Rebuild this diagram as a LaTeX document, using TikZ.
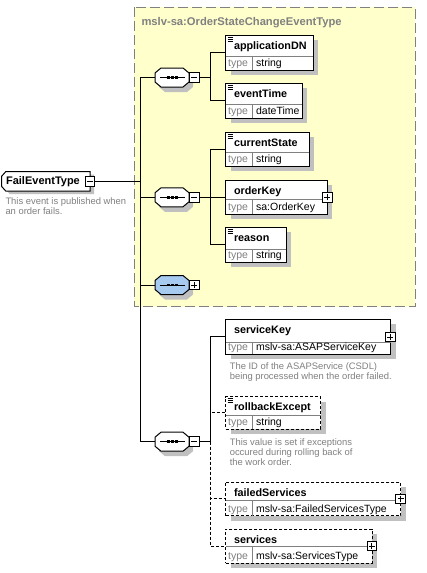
\documentclass[tikz,border=0pt]{standalone}
\usepackage{fontspec}
\setmainfont{Liberation Sans}
\definecolor{xyellow}{HTML}{FFFFCC}
\definecolor{xgray}{HTML}{808080}
\definecolor{xshadow}{HTML}{C0C0C0}
\definecolor{xblue}{HTML}{A6CAF0}
\tikzset{
  elnode/.style={draw=black, fill=white, inner sep=0pt, outer sep=0pt, line width=1pt},
  optbox/.style={dash pattern=on 3pt off 2pt},
  reqbox/.style={},
  divline/.style={draw=xgray, line width=1pt},
  namefont/.style={font=\fontsize{10.8}{12}\selectfont\bfseries, inner sep=0pt, anchor=base west},
  typelab/.style={font=\fontsize{10.5}{12}\selectfont, text=xgray, inner sep=0pt, anchor=base west},
  typeval/.style={font=\fontsize{10.5}{12}\selectfont, inner sep=0pt, anchor=base west},
  desctext/.style={font=\fontsize{9.4}{11}\selectfont, text=xgray, inner sep=0pt, anchor=base west},
  pmbox/.style={draw=black, fill=white, minimum size=9.5pt, inner sep=0pt, outer sep=0pt, line width=1pt},
  conn/.style={draw=black, line width=1pt},
  optconn/.style={draw=black, line width=1pt, dash pattern=on 3pt off 2pt},
}
% #1 name, #2 x1, #3 y1, #4 x2, #5 y2, #6 ydiv, #7 label, #8 type, #9 style
\newcommand\xelem[9]{%
  \fill[xshadow] (#2+5,#3+5) rectangle (#4+5,#5+5);
  \pgfmathsetmacro\xbw{#4-#2}\pgfmathsetmacro\xbh{#5-#3}%
  \node[elnode,#9,minimum width=\xbw pt,minimum height=\xbh pt,anchor=north west] (#1) at (#2,#3) {};
  \draw[divline] (#2,#6) -- (#4,#6) (252.7,#6) -- (252.7,#5);
  \node[namefont] (#1-n) at (#2+7.8,#3+14) {#7};
  \node[typelab] (#1-t) at (#2+2,#5-3.4) {type};
  \node[typeval] (#1-v) at (255.6,#5-3.4) {#8};
}
\newcommand\xicon[2]{%
  \draw[line width=0.9pt] (#1+1.8,#2+2) -- ++(5.5,0) (#1+1.8,#2+4) -- ++(5.5,0) (#1+1.8,#2+6) -- ++(5.5,0);
}
\newcommand\xplus[3]{%
  \node[pmbox] (#1) at (#2,#3) {};
  \draw[line width=1pt] ([xshift=-3pt]#1.center) -- ([xshift=3pt]#1.center)
    ([yshift=-3pt]#1.center) -- ([yshift=3pt]#1.center);
}
\newcommand\xminus[3]{%
  \node[pmbox] (#1) at (#2,#3) {};
  \draw[line width=1pt] ([xshift=-3pt]#1.center) -- ([xshift=3pt]#1.center);
}
\newcommand\xoct[1]{(155,#1-4.5) -- (161,#1-9.5) -- (183,#1-9.5) -- (189,#1-4.5) -- (189,#1+4.5) -- (183,#1+9.5) -- (161,#1+9.5) -- (155,#1+4.5) -- cycle}
% #1 name, #2 cy, #3 fill, #4 sign macro
\newcommand\xseq[4]{%
  \begin{scope}[shift={(4,5)}]\fill[xshadow] \xoct{#2};\end{scope}
  \filldraw[fill=#3, draw=black, line width=1pt] \xoct{#2};
  \node[inner sep=0pt, outer sep=0pt, minimum width=34pt, minimum height=19pt] (#1) at (172,#2) {};
  \draw[line width=1pt] (160,#2) -- (185,#2);
  \fill (166.8,#2-1.4) rectangle ++(2.8,2.8);
  \fill (171.1,#2-1.4) rectangle ++(2.8,2.8);
  \fill (175.4,#2-1.4) rectangle ++(2.8,2.8);
  #4{#1-s}{194.3}{#2}%
}
\begin{document}
\begin{tikzpicture}[x=1pt,y=-1pt,line width=1pt]
\useasboundingbox (0,0) rectangle (426,573);
\fill[white] (0,0) rectangle (426,573);
% base type area
\filldraw[fill=xyellow, draw=xgray, line width=1pt, dash pattern=on 10pt off 4pt] (134,7.3) rectangle (415,306.5);
\node[font=\fontsize{11.2}{13}\selectfont\bfseries, text=xgray, inner sep=0pt, anchor=base west] (basetitle) at (141,25) {mslv-sa:OrderStateChangeEventType};

% root element
\begin{scope}[shift={(4,3)}]
\fill[xshadow] (5.7,171.7) -- (90,171.7) -- (90,191) -- (5.7,191) -- (1.7,186.5) -- (1.7,176.2) -- cycle;
\end{scope}
\filldraw[fill=white, draw=black, line width=1pt] (5.7,171.7) -- (90,171.7) -- (90,191) -- (5.7,191) -- (1.7,186.5) -- (1.7,176.2) -- cycle;
\node[font=\fontsize{11}{13}\selectfont\bfseries, inner sep=0pt, anchor=base west] (fet) at (5.6,184.5) {FailEventType};
\xminus{fet-s}{90}{181.7}
\node[desctext] (fetd1) at (5,204) {This event is published when};
\node[desctext] (fetd2) at (5,214) {an order fails.};

% main vertical connector
\coordinate (t0) at (140,77.5);
\coordinate (b0) at (140,441.7);

% sequences
\xseq{seq1}{77.5}{white}{\xminus}
\xseq{seq2}{197.3}{white}{\xminus}
\xseq{seq3}{285}{xblue}{\xplus}
\xseq{seq4}{441.7}{white}{\xminus}

\draw[conn] (t0) -- (b0);
\draw[conn] (fet-s.east) -- (fet-s.east -| t0);
\draw[conn] (t0) -- (seq1.west);
\draw[conn] (seq2.west -| t0) -- (seq2.west);
\draw[conn] (seq3.west -| t0) -- (seq3.west);
\draw[conn] (b0) -- (seq4.west);

% elements of sequence 1
\xelem{appDN}{225.7}{35}{313}{70}{56}{applicationDN}{string}{reqbox}
\xicon{225.7}{35}
\xelem{evTime}{225.7}{83}{302}{118}{104}{eventTime}{dateTime}{reqbox}
\xicon{225.7}{83}
% elements of sequence 2
\xelem{curState}{225.7}{132}{309}{166}{152}{currentState}{string}{reqbox}
\xicon{225.7}{132}
\xelem{orderKey}{225.7}{180}{327}{214}{199.5}{orderKey}{sa:OrderKey}{reqbox}
\xplus{orderKey-s}{327.3}{197.3}
\xelem{reason}{225.7}{227.3}{286}{262}{249.3}{reason}{string}{reqbox}
\xicon{225.7}{227.3}
% elements of sequence 4
\xelem{svcKey}{225.7}{319.3}{390.7}{354}{342.7}{serviceKey}{mslv-sa:ASAPServiceKey}{reqbox}
\xplus{svcKey-s}{390.3}{337}
\node[desctext] (svcd1) at (229.3,369) {The ID of the ASAPService (CSDL)};
\node[desctext] (svcd2) at (229.3,379) {being processed when the order failed.};
\xelem{rbx}{225.7}{396.7}{320.7}{429}{415}{rollbackExcept}{string}{optbox}
\xicon{225.7}{396.7}
\node[desctext] (rbxd1) at (229.3,445) {This value is set if exceptions};
\node[desctext] (rbxd2) at (229.3,455) {occured during rolling back of};
\node[desctext] (rbxd3) at (229.3,465) {the work order.};
\xelem{failed}{225.7}{482}{400.7}{515.7}{500.7}{failedServices}{mslv-sa:FailedServicesType}{optbox}
\xplus{failed-s}{400.7}{498.8}
\xelem{services}{225.7}{529}{372}{563}{546.7}{services}{mslv-sa:ServicesType}{optbox}
\xplus{services-s}{371.8}{546}

% junctions
\coordinate (j1) at (210.7,77.5);
\coordinate (j2) at (210.7,197.3);
\coordinate (j4) at (210.7,441.7);
\draw[conn] (seq1-s.east) -- (j1);
\draw[conn] (j1) |- (appDN.west);
\draw[conn] (j1) |- (evTime.west);
\draw[conn] (seq2-s.east) -- (j2);
\draw[conn] (j2) |- (curState.west);
\draw[conn] (j2) |- (orderKey.west);
\draw[conn] (j2) |- (reason.west);
\draw[conn] (seq4-s.east) -- (j4);
\draw[optconn] (j4) |- (rbx.west);
\draw[optconn] (j4) |- (failed.west);
\draw[optconn] (j4) |- (services.west);
\draw[conn] (j4) |- (svcKey.west);
\end{tikzpicture}
\end{document}
